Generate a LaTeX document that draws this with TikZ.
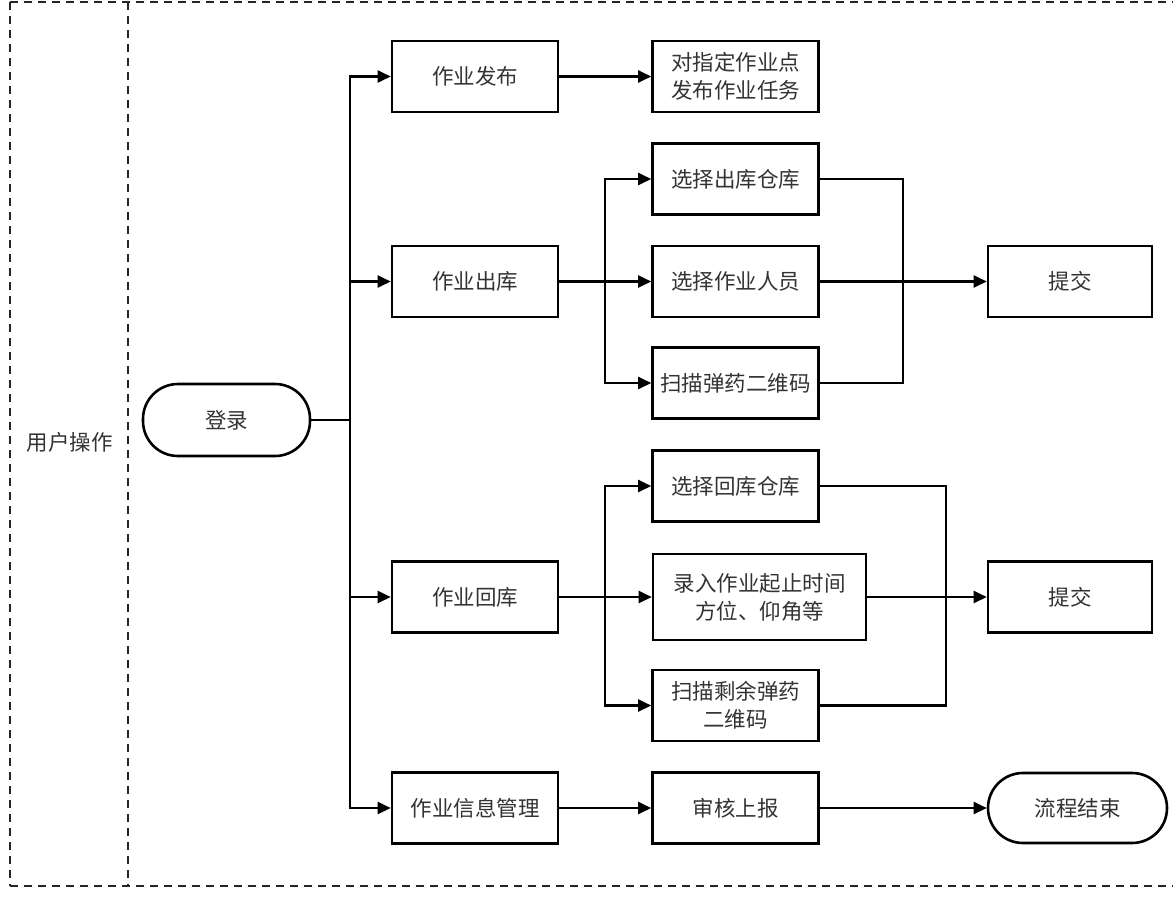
\documentclass[tikz,border=0pt]{standalone}
\usepackage{fontspec}
\setmainfont{Noto Sans CJK SC}
\usetikzlibrary{arrows.meta}
\definecolor{txt}{HTML}{333333}
\tikzset{
  box/.style={draw=black, line width=2.6pt, minimum width=166pt, minimum height=71pt,
    inner sep=0pt, font=\fontsize{21.5}{28}\selectfont, text=txt, align=center},
  term/.style={box, rounded corners=35pt},
  conn/.style={line width=2.4pt, draw=black},
  arr/.style={conn, -{Triangle[length=13pt,width=12pt]}},
  frame/.style={line width=1.6pt, draw=black!85, dash pattern=on 8pt off 6pt}
}
\begin{document}
\begin{tikzpicture}[x=1pt,y=-1pt]
\useasboundingbox (0,0) rectangle (1173,897);
% frame
\draw[frame] (10,2) -- (1173,2);
\draw[frame] (10,886) -- (1173,886);
\draw[frame] (10,2) -- (10,886);
\draw[frame] (128,2) -- (128,886);
\node[font=\fontsize{21.5}{24}\selectfont, text=txt] (lane) at (70,442) {用户操作};
% nodes
\node[term, minimum width=167pt, minimum height=72pt] (login) at (226.5,420) {登录};
\node[box] (fabu) at (475,76.5) {作业发布};
\node[box] (duizhi) at (735.5,76.5) {对指定作业点\\发布作业任务};
\node[box] (chuku) at (475,281.5) {作业出库};
\node[box] (xz1) at (735.5,179) {选择出库仓库};
\node[box] (xz2) at (735.5,281.5) {选择作业人员};
\node[box] (sm1) at (735.5,383) {扫描弹药二维码};
\node[box, minimum width=164pt] (tj1) at (1070,281.5) {提交};
\node[box] (huiku) at (475,597) {作业回库};
\node[box] (xz3) at (735.5,486) {选择回库仓库};
\node[box, minimum width=213pt, minimum height=86pt] (lr) at (759.5,597) {录入作业起止时间\\方位、仰角等};
\node[box] (sm2) at (735.5,705.5) {扫描剩余弹药\\二维码};
\node[box, minimum width=164pt] (tj2) at (1070,597) {提交};
\node[box] (glxx) at (475,808) {作业信息管理};
\node[box] (sh) at (735.5,808) {审核上报};
\node[term, minimum width=179pt, minimum height=70pt] (end) at (1077.5,808) {流程结束};
% trunk
\coordinate (tr) at (350,420);
\coordinate (b1) at (605,281.5);
\coordinate (m1) at (903,281.5);
\coordinate (b2) at (605,597);
\coordinate (m2) at (946,597);
\draw[conn] (login.east) -- (tr);
\draw[arr] (tr) |- (fabu.west);
\draw[arr] (tr) |- (chuku.west);
\draw[arr] (tr) |- (huiku.west);
\draw[arr] (tr) |- (glxx.west);
\draw[arr] (fabu) -- (duizhi);
% outbound group
\draw[conn] (chuku.east) -- (b1);
\draw[arr] (b1) |- (xz1.west);
\draw[arr] (b1) -- (xz2.west);
\draw[arr] (b1) |- (sm1.west);
\draw[conn] (xz1.east) -| (m1);
\draw[conn] (sm1.east) -| (m1);
\draw[arr] (xz2.east) -- (tj1.west);
% return group
\draw[conn] (huiku.east) -- (b2);
\draw[arr] (b2) |- (xz3.west);
\draw[arr] (b2) -- (lr.west);
\draw[arr] (b2) |- (sm2.west);
\draw[conn] (xz3.east) -| (m2);
\draw[conn] (sm2.east) -| (m2);
\draw[arr] (lr.east) -- (tj2.west);
% last row
\draw[arr] (glxx) -- (sh);
\draw[arr] (sh) -- (end);
\end{tikzpicture}
\end{document}
